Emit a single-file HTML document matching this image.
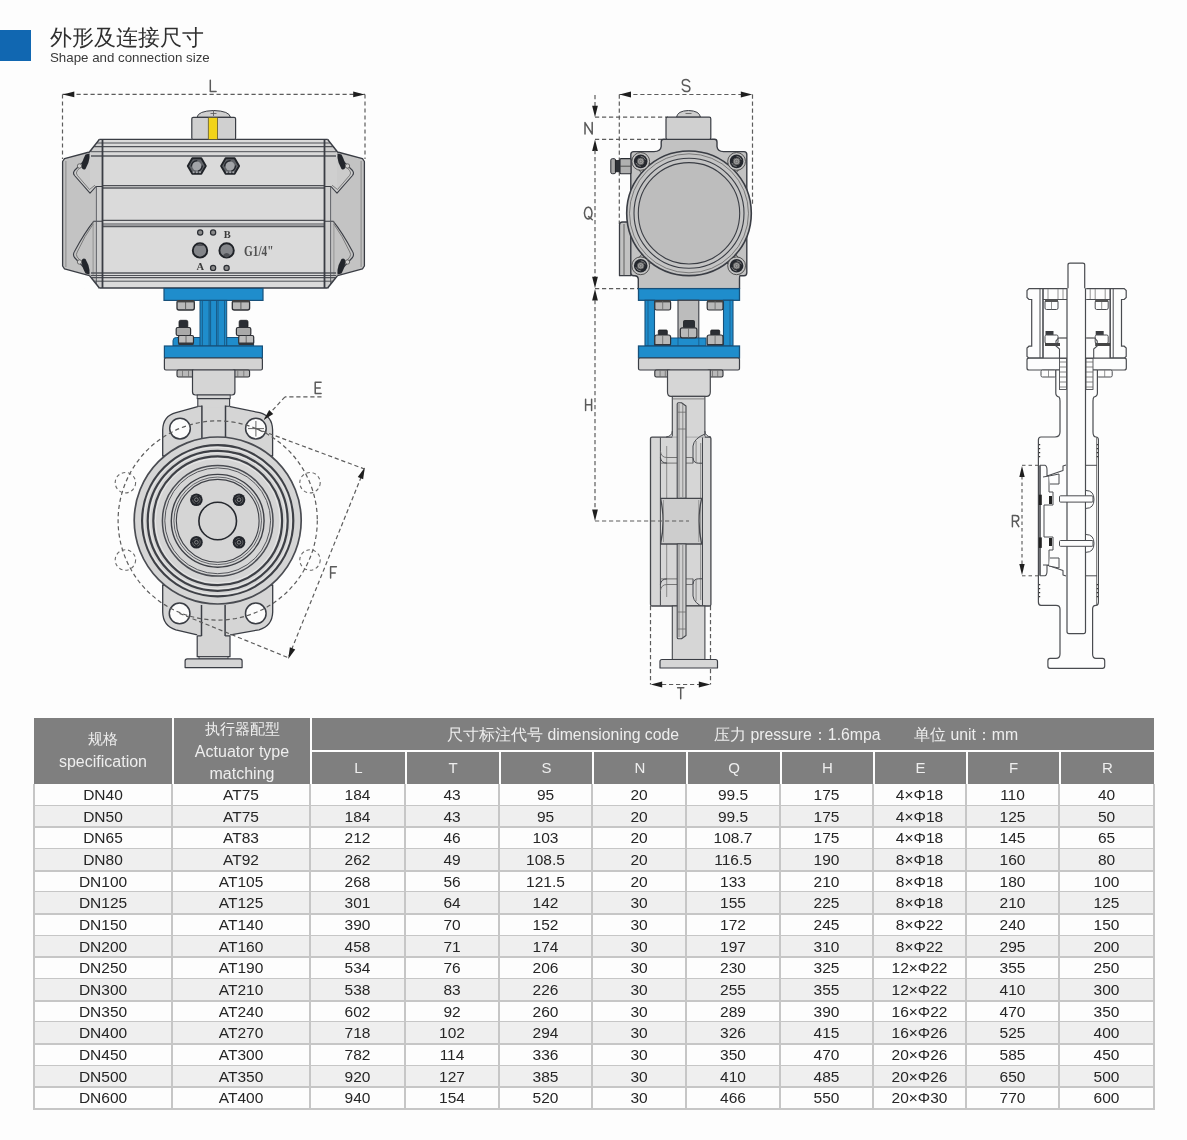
<!DOCTYPE html>
<html><head><meta charset="utf-8">
<style>
html,body{margin:0;padding:0;}
body{width:1187px;height:1140px;background:#fdfdfd;position:relative;overflow:hidden;font-family:"Liberation Sans",sans-serif;-webkit-font-smoothing:antialiased;}
.dt,.ht,.t1,.t2{will-change:transform;}
.g{position:absolute;background:#7f7f7f;}
.ht{position:absolute;color:#eeeeee;font-size:15px;text-align:center;white-space:nowrap;}
.he{font-size:16px;}
.dt{position:absolute;color:#262626;font-size:15.5px;text-align:center;white-space:nowrap;}
.rb{position:absolute;background:#efefef;}
.hl{position:absolute;height:2px;background:#c6c6c6;}
.vl{position:absolute;width:2px;background:#c6c6c6;}
.blue{position:absolute;left:0;top:30px;width:31px;height:31px;background:#1167b1;}
.t1{position:absolute;left:50px;top:24px;font-size:22px;color:#2f2f2f;line-height:28px;white-space:nowrap;}
.t2{position:absolute;left:50px;top:50px;font-size:13.3px;color:#3a3a3a;line-height:16px;white-space:nowrap;}
svg{position:absolute;left:0;top:0;will-change:transform;}
</style></head><body>
<div class="blue"></div>
<div class="t1">外形及连接尺寸</div>
<div class="t2">Shape and connection size</div>
<svg width="1187" height="710" viewBox="0 0 1187 710">
<line x1="62.50" y1="94.40" x2="365.00" y2="94.40" stroke="#5c5c5c" stroke-width="1.2" stroke-dasharray="4.2,2.8"/>
<line x1="62.50" y1="94.40" x2="62.50" y2="159.00" stroke="#5c5c5c" stroke-width="1.2" stroke-dasharray="4.2,2.8"/>
<line x1="365.00" y1="94.40" x2="365.00" y2="159.00" stroke="#5c5c5c" stroke-width="1.2" stroke-dasharray="4.2,2.8"/>
<polygon points="62.80,94.40 74.30,91.50 74.30,97.30" fill="#1e1e1e" stroke="none" stroke-width="0" stroke-linejoin="round" />
<polygon points="364.70,94.40 353.20,97.30 353.20,91.50" fill="#1e1e1e" stroke="none" stroke-width="0" stroke-linejoin="round" />
<path d="M210.3,80.2 V91.60000000000001 H216.10000000000002" fill="none" stroke="#5a5a5a" stroke-width="1.5" stroke-linejoin="round" stroke-linecap="round"/>
<rect x="102.50" y="139.40" width="222.00" height="148.60" rx="0" fill="#dadada" stroke="none" stroke-width="0" />
<polygon points="327.70,139.40 337.60,152.00 362.50,158.60 364.40,161.50 364.40,266.00 362.50,268.80 337.60,275.60 327.70,288.00 324.50,288.00 324.50,139.40" fill="#c3c3c3" stroke="none" stroke-width="0" stroke-linejoin="round" />
<polygon points="327.70,139.40 337.00,151.50 337.00,193.00 331.00,186.50 331.00,288.00 324.50,288.00 324.50,139.40" fill="#cfcfcf" stroke="none" stroke-width="0" stroke-linejoin="round" />
<path d="M337,155 L352.5,170.5 Q354,173 352.5,175 L337,193 Z" fill="#cbcbcb" stroke="none" stroke-width="0" stroke-linejoin="round" />
<polyline points="327.70,139.40 337.60,152.00 362.50,158.60 364.40,161.50 364.40,266.00 362.50,268.80 337.60,275.60 327.70,288.00" fill="none" stroke="#3a3d44" stroke-width="1.3" stroke-linejoin="round" />
<polyline points="361.10,161.00 361.10,267.00" fill="none" stroke="#8a8a8a" stroke-width="1" stroke-linejoin="round" />
<path d="M338,156 L352.5,170.5 Q354.5,173 352.5,175.5 L337,193.2 L331,186.5 L324.5,186.5" fill="none" stroke="#3a3d44" stroke-width="1.1" stroke-linejoin="round" />
<path d="M340,160 L349.8,170.8 Q351.5,173 349.8,175.2 L337.5,189.5 L332,185.2" fill="none" stroke="#6a6a6a" stroke-width="0.8" stroke-linejoin="round" />
<path d="M324.5,221.2 L333.1,221.2 Q342,232 352.5,251.5 Q354.5,254.5 352.5,257.5 L338,273" fill="none" stroke="#3a3d44" stroke-width="1.1" stroke-linejoin="round" />
<path d="M333.8,224 Q342,235 349.8,252 Q351.5,254.5 349.8,257 L340,268" fill="none" stroke="#6a6a6a" stroke-width="0.8" stroke-linejoin="round" />
<polyline points="330.60,186.50 330.60,288.00" fill="none" stroke="#55575c" stroke-width="0.9" stroke-linejoin="round" />
<polyline points="333.90,221.20 333.90,275.00" fill="none" stroke="#8a8a8a" stroke-width="0.8" stroke-linejoin="round" />
<path d="M337.5,153.5 L341.5,154.5 Q345.5,162 345.5,167.5 Q344,170.5 341.5,169 Q338,163 337.5,158 Z" fill="#23262c" stroke="none" stroke-width="0" stroke-linejoin="round" />
<path d="M337.5,274.5 L341.5,273.5 Q345.5,266 345.5,260.5 Q344,257.5 341.5,259 Q338,265 337.5,270 Z" fill="#23262c" stroke="none" stroke-width="0" stroke-linejoin="round" />
<circle cx="347.50" cy="166.00" r="2.20" fill="#d0d0d0" stroke="#555" stroke-width="0.8" />
<circle cx="347.50" cy="262.00" r="2.20" fill="#d0d0d0" stroke="#555" stroke-width="0.8" />
<polygon points="99.30,139.40 89.40,152.00 64.50,158.60 62.60,161.50 62.60,266.00 64.50,268.80 89.40,275.60 99.30,288.00 102.50,288.00 102.50,139.40" fill="#c3c3c3" stroke="none" stroke-width="0" stroke-linejoin="round" />
<polygon points="99.30,139.40 90.00,151.50 90.00,193.00 96.00,186.50 96.00,288.00 102.50,288.00 102.50,139.40" fill="#cfcfcf" stroke="none" stroke-width="0" stroke-linejoin="round" />
<path d="M90.00,155 L74.50,170.5 Q73.00,173 74.50,175 L90.00,193 Z" fill="#cbcbcb" stroke="none" stroke-width="0" stroke-linejoin="round" />
<polyline points="99.30,139.40 89.40,152.00 64.50,158.60 62.60,161.50 62.60,266.00 64.50,268.80 89.40,275.60 99.30,288.00" fill="none" stroke="#3a3d44" stroke-width="1.3" stroke-linejoin="round" />
<polyline points="65.90,161.00 65.90,267.00" fill="none" stroke="#8a8a8a" stroke-width="1" stroke-linejoin="round" />
<path d="M89.00,156 L74.50,170.5 Q72.50,173 74.50,175.5 L90.00,193.2 L96.00,186.5 L102.50,186.5" fill="none" stroke="#3a3d44" stroke-width="1.1" stroke-linejoin="round" />
<path d="M87.00,160 L77.20,170.8 Q75.50,173 77.20,175.2 L89.50,189.5 L95.00,185.2" fill="none" stroke="#6a6a6a" stroke-width="0.8" stroke-linejoin="round" />
<path d="M102.50,221.2 L93.90,221.2 Q85.00,232 74.50,251.5 Q72.50,254.5 74.50,257.5 L89.00,273" fill="none" stroke="#3a3d44" stroke-width="1.1" stroke-linejoin="round" />
<path d="M93.20,224 Q85.00,235 77.20,252 Q75.50,254.5 77.20,257 L87.00,268" fill="none" stroke="#6a6a6a" stroke-width="0.8" stroke-linejoin="round" />
<polyline points="96.40,186.50 96.40,288.00" fill="none" stroke="#55575c" stroke-width="0.9" stroke-linejoin="round" />
<polyline points="93.10,221.20 93.10,275.00" fill="none" stroke="#8a8a8a" stroke-width="0.8" stroke-linejoin="round" />
<path d="M89.50,153.5 L85.50,154.5 Q81.50,162 81.50,167.5 Q83.00,170.5 85.50,169 Q89.00,163 89.50,158 Z" fill="#23262c" stroke="none" stroke-width="0" stroke-linejoin="round" />
<path d="M89.50,274.5 L85.50,273.5 Q81.50,266 81.50,260.5 Q83.00,257.5 85.50,259 Q89.00,265 89.50,270 Z" fill="#23262c" stroke="none" stroke-width="0" stroke-linejoin="round" />
<circle cx="79.50" cy="166.00" r="2.20" fill="#d0d0d0" stroke="#555" stroke-width="0.8" />
<circle cx="79.50" cy="262.00" r="2.20" fill="#d0d0d0" stroke="#555" stroke-width="0.8" />
<line x1="91.00" y1="143.00" x2="336.00" y2="143.00" stroke="#4e5056" stroke-width="1" />
<line x1="91.00" y1="146.60" x2="336.00" y2="146.60" stroke="#4e5056" stroke-width="1.1" />
<line x1="91.00" y1="151.70" x2="336.00" y2="151.70" stroke="#4e5056" stroke-width="1" />
<line x1="91.00" y1="156.00" x2="336.00" y2="156.00" stroke="#55575c" stroke-width="1.6" />
<line x1="102.50" y1="185.60" x2="324.50" y2="185.60" stroke="#4e5056" stroke-width="1.1" />
<line x1="102.50" y1="188.00" x2="324.50" y2="188.00" stroke="#55575c" stroke-width="1.6" />
<line x1="102.50" y1="220.40" x2="324.50" y2="220.40" stroke="#4e5056" stroke-width="1.1" />
<line x1="102.50" y1="224.00" x2="324.50" y2="224.00" stroke="#4e5056" stroke-width="1" />
<line x1="102.50" y1="226.40" x2="324.50" y2="226.40" stroke="#55575c" stroke-width="1.6" />
<line x1="91.00" y1="273.00" x2="336.00" y2="273.00" stroke="#55575c" stroke-width="1.6" />
<line x1="91.00" y1="275.50" x2="336.00" y2="275.50" stroke="#4e5056" stroke-width="1" />
<line x1="91.00" y1="277.60" x2="336.00" y2="277.60" stroke="#4e5056" stroke-width="1.1" />
<line x1="91.00" y1="281.20" x2="336.00" y2="281.20" stroke="#4e5056" stroke-width="1" />
<line x1="99.30" y1="139.40" x2="327.70" y2="139.40" stroke="#3a3d44" stroke-width="1.3" />
<line x1="99.30" y1="288.00" x2="327.70" y2="288.00" stroke="#3a3d44" stroke-width="1.3" />
<line x1="102.50" y1="139.40" x2="102.50" y2="288.00" stroke="#3a3d44" stroke-width="1.8" />
<line x1="324.50" y1="139.40" x2="324.50" y2="288.00" stroke="#3a3d44" stroke-width="1.8" />
<polygon points="99.30,139.40 89.40,152.00 77.00,139.40" fill="#fdfdfd" stroke="none" stroke-width="0" stroke-linejoin="round" />
<polygon points="99.30,288.00 89.40,275.60 77.00,288.50" fill="#fdfdfd" stroke="none" stroke-width="0" stroke-linejoin="round" />
<polyline points="99.30,139.40 89.40,152.00" fill="none" stroke="#3a3d44" stroke-width="1.3" stroke-linejoin="round" />
<polyline points="99.30,288.00 89.40,275.60" fill="none" stroke="#3a3d44" stroke-width="1.3" stroke-linejoin="round" />
<polygon points="327.70,139.40 337.60,152.00 350.00,139.40" fill="#fdfdfd" stroke="none" stroke-width="0" stroke-linejoin="round" />
<polygon points="327.70,288.00 337.60,275.60 350.00,288.50" fill="#fdfdfd" stroke="none" stroke-width="0" stroke-linejoin="round" />
<polyline points="327.70,139.40 337.60,152.00" fill="none" stroke="#3a3d44" stroke-width="1.3" stroke-linejoin="round" />
<polyline points="327.70,288.00 337.60,275.60" fill="none" stroke="#3a3d44" stroke-width="1.3" stroke-linejoin="round" />
<path d="M197,117.3 Q198,111 213.7,110.5 Q229.5,111 230.5,117.3 Z" fill="#cfcfcf" stroke="#3a3d44" stroke-width="1" stroke-linejoin="round" />
<line x1="210.50" y1="113.50" x2="216.50" y2="113.50" stroke="#555" stroke-width="0.8" />
<line x1="213.50" y1="111.00" x2="213.50" y2="116.00" stroke="#555" stroke-width="0.8" />
<rect x="191.80" y="117.30" width="43.80" height="22.10" rx="1.5" fill="#d0d0d0" stroke="#3a3d44" stroke-width="1.2" />
<rect x="208.40" y="117.80" width="9.10" height="21.40" rx="0" fill="#f2d418" stroke="none" stroke-width="0" />
<line x1="208.40" y1="117.80" x2="208.40" y2="139.20" stroke="#6f6530" stroke-width="0.9" />
<line x1="217.50" y1="117.80" x2="217.50" y2="139.20" stroke="#6f6530" stroke-width="0.9" />
<polygon points="205.80,166.00 201.30,173.79 192.30,173.79 187.80,166.00 192.30,158.21 201.30,158.21" fill="#5f6267" stroke="#202328" stroke-width="1.9" stroke-linejoin="round" />
<circle cx="196.80" cy="166.00" r="4.60" fill="#a2a4a8" stroke="none" stroke-width="0" />
<path d="M191.20000000000002,166.5 Q191.8,161 197.3,160.6" fill="none" stroke="#23262c" stroke-width="1.4" stroke-linejoin="round" />
<path d="M202.4,165.5 Q201.8,170 198.3,171" fill="none" stroke="#23262c" stroke-width="1.4" stroke-linejoin="round" />
<circle cx="193.60" cy="172.20" r="1.00" fill="#a2a4a8" stroke="none" stroke-width="0" />
<circle cx="196.80" cy="172.20" r="1.00" fill="#a2a4a8" stroke="none" stroke-width="0" />
<circle cx="200.00" cy="172.20" r="1.00" fill="#a2a4a8" stroke="none" stroke-width="0" />
<polygon points="239.10,166.00 234.60,173.79 225.60,173.79 221.10,166.00 225.60,158.21 234.60,158.21" fill="#5f6267" stroke="#202328" stroke-width="1.9" stroke-linejoin="round" />
<circle cx="230.10" cy="166.00" r="4.60" fill="#a2a4a8" stroke="none" stroke-width="0" />
<path d="M224.5,166.5 Q225.1,161 230.6,160.6" fill="none" stroke="#23262c" stroke-width="1.4" stroke-linejoin="round" />
<path d="M235.7,165.5 Q235.1,170 231.6,171" fill="none" stroke="#23262c" stroke-width="1.4" stroke-linejoin="round" />
<circle cx="226.90" cy="172.20" r="1.00" fill="#a2a4a8" stroke="none" stroke-width="0" />
<circle cx="230.10" cy="172.20" r="1.00" fill="#a2a4a8" stroke="none" stroke-width="0" />
<circle cx="233.30" cy="172.20" r="1.00" fill="#a2a4a8" stroke="none" stroke-width="0" />
<circle cx="200.20" cy="232.50" r="2.60" fill="#8a8a8a" stroke="#2a2d33" stroke-width="1.2" />
<circle cx="213.10" cy="232.50" r="2.60" fill="#8a8a8a" stroke="#2a2d33" stroke-width="1.2" />
<circle cx="213.10" cy="267.90" r="2.60" fill="#8a8a8a" stroke="#2a2d33" stroke-width="1.2" />
<circle cx="226.60" cy="267.90" r="2.60" fill="#8a8a8a" stroke="#2a2d33" stroke-width="1.2" />
<circle cx="200.00" cy="250.40" r="7.20" fill="#838589" stroke="#1f2227" stroke-width="1.9" />
<circle cx="226.60" cy="250.40" r="7.20" fill="#838589" stroke="#1f2227" stroke-width="1.9" />
<path d="M196.5,246 Q200,241 203.5,246 Z" fill="#4f5156" stroke="none" stroke-width="0" stroke-linejoin="round" />
<path d="M223.1,255 Q226.6,259.8 230.1,255 Q226.6,251 223.1,255 Z" fill="#4f5156" stroke="none" stroke-width="0" stroke-linejoin="round" />
<text x="227.2" y="237.6" font-size="10.5" font-weight="bold" fill="#3a3a3a" text-anchor="middle" font-family="Liberation Serif">B</text>
<text x="200.2" y="270" font-size="10.5" font-weight="bold" fill="#3a3a3a" text-anchor="middle" font-family="Liberation Serif">A</text>
<text x="244" y="255.7" font-size="14" font-weight="bold" fill="#505050" font-family="Liberation Serif" textLength="29.5" lengthAdjust="spacingAndGlyphs">G1/4"</text>
<rect x="164.00" y="288.40" width="99.00" height="12.00" rx="0" fill="#1f8dcc" stroke="#17507a" stroke-width="1.2" />
<rect x="177.00" y="300.60" width="17.30" height="9.40" rx="2" fill="#b9b9b9" stroke="#2e3035" stroke-width="1.3" />
<line x1="185.60" y1="301.00" x2="185.60" y2="309.50" stroke="#555" stroke-width="0.9" />
<rect x="177.0" y="300.4" width="17.3" height="2" fill="#444"/>
<rect x="232.30" y="300.60" width="17.30" height="9.40" rx="2" fill="#b9b9b9" stroke="#2e3035" stroke-width="1.3" />
<line x1="240.90" y1="301.00" x2="240.90" y2="309.50" stroke="#555" stroke-width="0.9" />
<rect x="232.3" y="300.4" width="17.3" height="2" fill="#444"/>
<path d="M173,346 L173,340.5 Q173,337.5 176.5,337.5 L250,337.5 Q253.6,337.5 253.6,340.5 L253.6,346 Z" fill="#1f8dcc" stroke="#17507a" stroke-width="1" stroke-linejoin="round" />
<rect x="200.00" y="300.40" width="26.70" height="45.60" rx="0" fill="#1f8dcc" stroke="#17507a" stroke-width="1" />
<line x1="202.30" y1="301.00" x2="202.30" y2="346.00" stroke="#17507a" stroke-width="0.8" />
<line x1="209.10" y1="301.00" x2="209.10" y2="346.00" stroke="#17507a" stroke-width="0.8" />
<line x1="210.60" y1="301.00" x2="210.60" y2="346.00" stroke="#17507a" stroke-width="0.8" />
<line x1="216.50" y1="301.00" x2="216.50" y2="346.00" stroke="#17507a" stroke-width="0.8" />
<line x1="218.00" y1="301.00" x2="218.00" y2="346.00" stroke="#17507a" stroke-width="0.8" />
<line x1="224.60" y1="301.00" x2="224.60" y2="346.00" stroke="#17507a" stroke-width="0.8" />
<rect x="179.00" y="320.30" width="8.80" height="7.60" rx="1.5" fill="#2b2e34" stroke="#1a1c20" stroke-width="0.8" />
<rect x="176.20" y="327.50" width="14.40" height="8.00" rx="1.5" fill="#a9a9a9" stroke="#2e3035" stroke-width="1.2" />
<rect x="178.50" y="335.50" width="15.00" height="8.60" rx="1.5" fill="#bdbdbd" stroke="#2e3035" stroke-width="1.2" />
<line x1="186.00" y1="335.50" x2="186.00" y2="344.00" stroke="#555" stroke-width="0.8" />
<rect x="178.5" y="342.5" width="15" height="2.5" fill="#33363b"/>
<rect x="239.20" y="320.30" width="8.80" height="7.60" rx="1.5" fill="#2b2e34" stroke="#1a1c20" stroke-width="0.8" />
<rect x="236.40" y="327.50" width="14.40" height="8.00" rx="1.5" fill="#a9a9a9" stroke="#2e3035" stroke-width="1.2" />
<rect x="238.70" y="335.50" width="15.00" height="8.60" rx="1.5" fill="#bdbdbd" stroke="#2e3035" stroke-width="1.2" />
<line x1="246.20" y1="335.50" x2="246.20" y2="344.00" stroke="#555" stroke-width="0.8" />
<rect x="238.7" y="342.5" width="15" height="2.5" fill="#33363b"/>
<rect x="164.40" y="346.00" width="98.00" height="12.00" rx="0" fill="#1f8dcc" stroke="#17507a" stroke-width="1.2" />
<rect x="164.40" y="358.00" width="98.00" height="12.00" rx="1.5" fill="#d3d3d3" stroke="#3a3d44" stroke-width="1.2" />
<rect x="177.00" y="370.00" width="17.30" height="7.00" rx="1.5" fill="#b9b9b9" stroke="#2e3035" stroke-width="1.1" />
<line x1="182.50" y1="370.50" x2="182.50" y2="377.00" stroke="#666" stroke-width="0.7" />
<line x1="188.50" y1="370.50" x2="188.50" y2="377.00" stroke="#666" stroke-width="0.7" />
<rect x="232.30" y="370.00" width="17.30" height="7.00" rx="1.5" fill="#b9b9b9" stroke="#2e3035" stroke-width="1.1" />
<line x1="237.80" y1="370.50" x2="237.80" y2="377.00" stroke="#666" stroke-width="0.7" />
<line x1="243.80" y1="370.50" x2="243.80" y2="377.00" stroke="#666" stroke-width="0.7" />
<path d="M192.5,370 L192.5,392 Q192.5,395 195.5,395 L232,395 Q234.9,395 234.9,392 L234.9,370 Z" fill="#d5d5d5" stroke="#3a3d44" stroke-width="1.2" stroke-linejoin="round" />
<rect x="197.20" y="395.00" width="33.00" height="3.60" rx="0" fill="#d5d5d5" stroke="#3a3d44" stroke-width="1" />
<path d="M199.5,406.2 L176,412.7 Q163,416 162.7,430 L162.7,456 L272.6,456 L272.6,430 Q272.3,416 259.7,412.7 L227.8,406.2 Z" fill="#d5d5d5" stroke="#3a3d44" stroke-width="1.3" stroke-linejoin="round" />
<path d="M162.7,585 L162.7,612 Q163,626 175.8,629.8 L201.5,635.9 L225.1,635.9 L259,629.8 Q272.3,626 272.7,612 L272.7,585 Z" fill="#d5d5d5" stroke="#3a3d44" stroke-width="1.3" stroke-linejoin="round" />
<rect x="197.80" y="398.60" width="31.80" height="9.00" rx="0" fill="#d5d5d5" stroke="none" stroke-width="0" />
<path d="M197.8,406.2 V398.6 H229.6 V406.2 M197.8,406.2 L201.9,406.2 M229.6,406.2 L225.5,406.2" fill="none" stroke="#3a3d44" stroke-width="1.1" stroke-linejoin="round" />
<line x1="201.90" y1="405.50" x2="201.90" y2="438.00" stroke="#3a3d44" stroke-width="1.5" />
<line x1="225.50" y1="405.50" x2="225.50" y2="438.00" stroke="#3a3d44" stroke-width="1.5" />
<rect x="197.20" y="634.00" width="32.80" height="22.70" rx="0" fill="#d5d5d5" stroke="none" stroke-width="0" />
<path d="M197.2,635.9 L201.5,635.9 M225.1,635.9 L230,635.9 M197.2,635.9 V656.7 H230 V635.9" fill="none" stroke="#3a3d44" stroke-width="1.2" stroke-linejoin="round" />
<rect x="199.00" y="656.70" width="29.00" height="2.50" rx="0" fill="#d5d5d5" stroke="#3a3d44" stroke-width="0.9" />
<path d="M185.1,667.6 L185.1,661 Q185.1,658.9 187.2,658.9 L240,658.9 Q242.1,658.9 242.1,661 L242.1,667.6 Z" fill="#d5d5d5" stroke="#3a3d44" stroke-width="1.2" stroke-linejoin="round" />
<circle cx="180.00" cy="428.60" r="10.30" fill="#fcfcfc" stroke="#3a3d44" stroke-width="1.5" />
<circle cx="255.90" cy="428.60" r="10.30" fill="#fcfcfc" stroke="#3a3d44" stroke-width="1.5" />
<circle cx="179.60" cy="613.40" r="10.30" fill="#fcfcfc" stroke="#3a3d44" stroke-width="1.5" />
<circle cx="255.80" cy="613.40" r="10.30" fill="#fcfcfc" stroke="#3a3d44" stroke-width="1.5" />
<line x1="255.90" y1="421.00" x2="255.90" y2="436.50" stroke="#666" stroke-width="1" />
<line x1="248.00" y1="428.60" x2="264.00" y2="428.60" stroke="#666" stroke-width="1" />
<circle cx="217.70" cy="520.50" r="83.50" fill="#d5d5d5" stroke="#4a4c52" stroke-width="1.7" />
<circle cx="217.70" cy="520.80" r="75.60" fill="none" stroke="#3e4046" stroke-width="2.2" />
<circle cx="217.70" cy="520.80" r="70.00" fill="none" stroke="#3e4046" stroke-width="2.2" />
<circle cx="217.70" cy="520.80" r="64.40" fill="none" stroke="#3e4046" stroke-width="2.2" />
<circle cx="217.70" cy="520.80" r="55.30" fill="none" stroke="#4a4c52" stroke-width="1.5" />
<circle cx="217.70" cy="520.80" r="52.90" fill="none" stroke="#55575c" stroke-width="1" />
<circle cx="217.70" cy="520.80" r="46.40" fill="none" stroke="#3e4046" stroke-width="1.4" />
<circle cx="217.70" cy="520.80" r="43.80" fill="none" stroke="#55575c" stroke-width="0.9" />
<circle cx="217.70" cy="520.80" r="41.40" fill="none" stroke="#3e4046" stroke-width="1.1" />
<circle cx="217.70" cy="520.80" r="73.60" fill="none" stroke="#eeeeee" stroke-width="0.8" />
<circle cx="217.70" cy="520.80" r="68.00" fill="none" stroke="#eeeeee" stroke-width="0.8" />
<circle cx="217.70" cy="520.80" r="62.40" fill="none" stroke="#eeeeee" stroke-width="0.8" />
<line x1="201.50" y1="605.00" x2="201.50" y2="636.00" stroke="#3a3d44" stroke-width="1.5" />
<line x1="225.10" y1="605.00" x2="225.10" y2="636.00" stroke="#3a3d44" stroke-width="1.5" />
<circle cx="217.70" cy="521.00" r="18.80" fill="#d5d5d5" stroke="#25282e" stroke-width="1.6" />
<circle cx="196.40" cy="499.70" r="6.30" fill="#22252b" stroke="none" stroke-width="0" />
<circle cx="196.40" cy="499.70" r="1.80" fill="none" stroke="#999" stroke-width="0.8" />
<circle cx="196.40" cy="499.70" r="3.90" fill="none" stroke="#777" stroke-width="0.7" stroke-dasharray="5,2"/>
<circle cx="196.40" cy="542.30" r="6.30" fill="#22252b" stroke="none" stroke-width="0" />
<circle cx="196.40" cy="542.30" r="1.80" fill="none" stroke="#999" stroke-width="0.8" />
<circle cx="196.40" cy="542.30" r="3.90" fill="none" stroke="#777" stroke-width="0.7" stroke-dasharray="5,2"/>
<circle cx="239.00" cy="499.70" r="6.30" fill="#22252b" stroke="none" stroke-width="0" />
<circle cx="239.00" cy="499.70" r="1.80" fill="none" stroke="#999" stroke-width="0.8" />
<circle cx="239.00" cy="499.70" r="3.90" fill="none" stroke="#777" stroke-width="0.7" stroke-dasharray="5,2"/>
<circle cx="239.00" cy="542.30" r="6.30" fill="#22252b" stroke="none" stroke-width="0" />
<circle cx="239.00" cy="542.30" r="1.80" fill="none" stroke="#999" stroke-width="0.8" />
<circle cx="239.00" cy="542.30" r="3.90" fill="none" stroke="#777" stroke-width="0.7" stroke-dasharray="5,2"/>
<circle cx="217.70" cy="520.50" r="99.60" fill="none" stroke="#5c5c5c" stroke-width="1.2" stroke-dasharray="4.2,3"/>
<circle cx="125.40" cy="482.70" r="10.20" fill="none" stroke="#6a6a6a" stroke-width="1.1" stroke-dasharray="3.5,2.8"/>
<circle cx="125.40" cy="560.00" r="10.20" fill="none" stroke="#6a6a6a" stroke-width="1.1" stroke-dasharray="3.5,2.8"/>
<circle cx="310.00" cy="482.70" r="10.20" fill="none" stroke="#6a6a6a" stroke-width="1.1" stroke-dasharray="3.5,2.8"/>
<circle cx="310.00" cy="560.00" r="10.20" fill="none" stroke="#6a6a6a" stroke-width="1.1" stroke-dasharray="3.5,2.8"/>
<line x1="321.50" y1="396.80" x2="285.00" y2="396.80" stroke="#5c5c5c" stroke-width="1.2" stroke-dasharray="4.2,2.8"/>
<line x1="285.00" y1="396.80" x2="265.00" y2="418.50" stroke="#5c5c5c" stroke-width="1.2" stroke-dasharray="4.2,2.8"/>
<polygon points="263.60,420.00 269.19,410.12 273.23,414.00" fill="#1e1e1e" stroke="none" stroke-width="0" stroke-linejoin="round" />
<path d="M321.09999999999997,382.3 H315.2 V393.5 H321.09999999999997 M315.2,387.90000000000003 H320.215" fill="none" stroke="#5a5a5a" stroke-width="1.5" stroke-linejoin="round" stroke-linecap="round"/>
<line x1="256.00" y1="428.60" x2="364.50" y2="469.00" stroke="#5c5c5c" stroke-width="1.2" stroke-dasharray="4.2,2.8"/>
<line x1="179.60" y1="613.40" x2="289.00" y2="658.00" stroke="#5c5c5c" stroke-width="1.2" stroke-dasharray="4.2,2.8"/>
<line x1="289.00" y1="656.00" x2="364.00" y2="470.00" stroke="#5c5c5c" stroke-width="1.2" stroke-dasharray="4.2,2.8"/>
<polygon points="364.80,467.50 363.13,479.24 357.77,477.05" fill="#1e1e1e" stroke="none" stroke-width="0" stroke-linejoin="round" />
<polygon points="288.20,659.00 289.87,647.26 295.23,649.45" fill="#1e1e1e" stroke="none" stroke-width="0" stroke-linejoin="round" />
<path d="M336.40000000000003,566.8 H330.6 V578.0 M330.6,572.9 H335.24" fill="none" stroke="#5a5a5a" stroke-width="1.5" stroke-linejoin="round" stroke-linecap="round"/>
<line x1="619.30" y1="94.50" x2="752.50" y2="94.50" stroke="#5c5c5c" stroke-width="1.2" stroke-dasharray="4.2,2.8"/>
<polygon points="619.50,94.50 631.00,91.60 631.00,97.40" fill="#1e1e1e" stroke="none" stroke-width="0" stroke-linejoin="round" />
<polygon points="752.30,94.50 740.80,97.40 740.80,91.60" fill="#1e1e1e" stroke="none" stroke-width="0" stroke-linejoin="round" />
<line x1="619.30" y1="94.50" x2="619.30" y2="224.00" stroke="#5c5c5c" stroke-width="1.2" stroke-dasharray="4.2,2.8"/>
<line x1="752.50" y1="94.50" x2="752.50" y2="205.00" stroke="#5c5c5c" stroke-width="1.2" stroke-dasharray="4.2,2.8"/>
<path d="M689.6,81.64 Q688.0,79.6 686.0999999999999,79.6 Q682.3,79.6 682.3,82.72 Q682.3,85.1 686.0999999999999,85.6 Q689.9,86.39999999999999 689.9,88.47999999999999 Q689.9,91.6 686.0999999999999,91.6 Q683.8199999999999,91.6 682.3,89.19999999999999" fill="none" stroke="#5a5a5a" stroke-width="1.5" stroke-linejoin="round" stroke-linecap="round"/>
<line x1="595.00" y1="95.00" x2="595.00" y2="110.00" stroke="#5c5c5c" stroke-width="1.2" stroke-dasharray="4.2,2.8"/>
<polygon points="595.00,117.20 592.10,105.70 597.90,105.70" fill="#1e1e1e" stroke="none" stroke-width="0" stroke-linejoin="round" />
<line x1="595.00" y1="117.20" x2="668.00" y2="117.20" stroke="#5c5c5c" stroke-width="1.2" stroke-dasharray="4.2,2.8"/>
<path d="M585,134.0 V122.6 L592.2,134.0 V122.6" fill="none" stroke="#5a5a5a" stroke-width="1.5" stroke-linejoin="round" stroke-linecap="round"/>
<line x1="595.00" y1="139.30" x2="662.00" y2="139.30" stroke="#5c5c5c" stroke-width="1.2" stroke-dasharray="4.2,2.8"/>
<polygon points="595.00,139.50 597.90,151.00 592.10,151.00" fill="#1e1e1e" stroke="none" stroke-width="0" stroke-linejoin="round" />
<line x1="595.00" y1="150.00" x2="595.00" y2="280.00" stroke="#5c5c5c" stroke-width="1.2" stroke-dasharray="4.2,2.8"/>
<polygon points="595.00,288.30 592.10,276.80 597.90,276.80" fill="#1e1e1e" stroke="none" stroke-width="0" stroke-linejoin="round" />
<line x1="595.00" y1="288.60" x2="638.00" y2="288.60" stroke="#5c5c5c" stroke-width="1.2" stroke-dasharray="4.2,2.8"/>
<path d="M588.2,207.3 A3.8,5.8 0 1 0 588.21,207.3 M588.5799999999999,216.58 L592.3,219.70000000000002" fill="none" stroke="#5a5a5a" stroke-width="1.5" stroke-linejoin="round" stroke-linecap="round"/>
<polygon points="595.00,289.00 597.90,300.50 592.10,300.50" fill="#1e1e1e" stroke="none" stroke-width="0" stroke-linejoin="round" />
<line x1="595.00" y1="300.00" x2="595.00" y2="515.00" stroke="#5c5c5c" stroke-width="1.2" stroke-dasharray="4.2,2.8"/>
<polygon points="595.00,521.00 592.10,509.50 597.90,509.50" fill="#1e1e1e" stroke="none" stroke-width="0" stroke-linejoin="round" />
<path d="M585.6,399.2 V410.4 M591.6,399.2 V410.4 M585.6,404.8 H591.6" fill="none" stroke="#5a5a5a" stroke-width="1.5" stroke-linejoin="round" stroke-linecap="round"/>
<line x1="650.50" y1="606.00" x2="650.50" y2="684.50" stroke="#5c5c5c" stroke-width="1.2" stroke-dasharray="4.2,2.8"/>
<line x1="710.50" y1="606.00" x2="710.50" y2="684.50" stroke="#5c5c5c" stroke-width="1.2" stroke-dasharray="4.2,2.8"/>
<line x1="662.00" y1="684.50" x2="700.00" y2="684.50" stroke="#5c5c5c" stroke-width="1.2" stroke-dasharray="4.2,2.8"/>
<polygon points="650.70,684.50 662.20,681.60 662.20,687.40" fill="#1e1e1e" stroke="none" stroke-width="0" stroke-linejoin="round" />
<polygon points="710.30,684.50 698.80,687.40 698.80,681.60" fill="#1e1e1e" stroke="none" stroke-width="0" stroke-linejoin="round" />
<path d="M677.6,687.8 H683.8000000000001 M680.7,687.8 V698.8" fill="none" stroke="#5a5a5a" stroke-width="1.5" stroke-linejoin="round" stroke-linecap="round"/>
<path d="M631,222 L622.5,222 Q619.5,222 619.5,225 L619.5,275.7 L631,275.7 Z" fill="#c2c2c2" stroke="#3a3d44" stroke-width="1.3" stroke-linejoin="round" />
<line x1="624.00" y1="224.00" x2="624.00" y2="275.50" stroke="#555" stroke-width="0.9" />
<path d="M663.5,139.3 L714.5,139.3 Q717,139.3 717,142 L717,146.5 Q717.5,151.6 723.5,151.6 L744,151.6 Q746.8,151.6 746.8,154.5 L746.8,272.8 Q746.8,275.7 744,275.7 L740,275.7 Q739.5,276 739.5,279 L739.5,288.6 L638.3,288.6 L638.3,279 Q638,275.7 635,275.7 L633.8,275.7 Q630.8,275.7 630.8,272.8 L630.8,154.5 Q630.8,151.6 633.8,151.6 L654,151.6 Q660.6,151.6 661.2,146.5 L661.2,142 Q661.2,139.3 663.5,139.3 Z" fill="#c2c2c2" stroke="#3a3d44" stroke-width="1.4" stroke-linejoin="round" />
<line x1="638.70" y1="169.70" x2="644.50" y2="176.50" stroke="#444" stroke-width="0.9" />
<line x1="649.00" y1="163.00" x2="654.00" y2="168.00" stroke="#444" stroke-width="0.9" />
<line x1="738.70" y1="169.70" x2="733.00" y2="176.50" stroke="#444" stroke-width="0.9" />
<line x1="728.50" y1="163.00" x2="723.50" y2="168.00" stroke="#444" stroke-width="0.9" />
<line x1="638.70" y1="258.00" x2="644.50" y2="251.00" stroke="#444" stroke-width="0.9" />
<line x1="649.00" y1="264.50" x2="654.00" y2="259.50" stroke="#444" stroke-width="0.9" />
<line x1="738.70" y1="258.00" x2="733.00" y2="251.00" stroke="#444" stroke-width="0.9" />
<line x1="728.50" y1="264.50" x2="723.50" y2="259.50" stroke="#444" stroke-width="0.9" />
<circle cx="689.00" cy="213.30" r="62.30" fill="#c4c4c4" stroke="#3a3d44" stroke-width="1.6" />
<circle cx="689.00" cy="213.30" r="59.50" fill="none" stroke="#666" stroke-width="0.8" />
<circle cx="689.00" cy="213.30" r="55.00" fill="none" stroke="#3a3d44" stroke-width="1.1" />
<circle cx="689.00" cy="213.30" r="50.70" fill="#bdbdbd" stroke="#3a3d44" stroke-width="1.1" />
<circle cx="640.70" cy="161.40" r="8.90" fill="#c2c2c2" stroke="#444" stroke-width="0.9" />
<circle cx="640.70" cy="161.40" r="6.80" fill="#25282e" stroke="none" stroke-width="0" />
<circle cx="640.70" cy="161.40" r="3.30" fill="#a0a0a0" stroke="#555" stroke-width="0.8" />
<circle cx="640.70" cy="161.40" r="1.40" fill="none" stroke="#555" stroke-width="0.6" />
<path d="M635.9000000000001,162.9 Q637.2,166.4 640.7,166.4" fill="none" stroke="#8a8a8a" stroke-width="0.9" stroke-linejoin="round" />
<path d="M645.5,159.9 Q644.2,156.4 640.7,156.4" fill="none" stroke="#8a8a8a" stroke-width="0.9" stroke-linejoin="round" />
<circle cx="736.60" cy="161.40" r="8.90" fill="#c2c2c2" stroke="#444" stroke-width="0.9" />
<circle cx="736.60" cy="161.40" r="6.80" fill="#25282e" stroke="none" stroke-width="0" />
<circle cx="736.60" cy="161.40" r="3.30" fill="#a0a0a0" stroke="#555" stroke-width="0.8" />
<circle cx="736.60" cy="161.40" r="1.40" fill="none" stroke="#555" stroke-width="0.6" />
<path d="M731.8000000000001,162.9 Q733.1,166.4 736.6,166.4" fill="none" stroke="#8a8a8a" stroke-width="0.9" stroke-linejoin="round" />
<path d="M741.4,159.9 Q740.1,156.4 736.6,156.4" fill="none" stroke="#8a8a8a" stroke-width="0.9" stroke-linejoin="round" />
<circle cx="640.70" cy="265.80" r="8.90" fill="#c2c2c2" stroke="#444" stroke-width="0.9" />
<circle cx="640.70" cy="265.80" r="6.80" fill="#25282e" stroke="none" stroke-width="0" />
<circle cx="640.70" cy="265.80" r="3.30" fill="#a0a0a0" stroke="#555" stroke-width="0.8" />
<circle cx="640.70" cy="265.80" r="1.40" fill="none" stroke="#555" stroke-width="0.6" />
<path d="M635.9000000000001,267.3 Q637.2,270.8 640.7,270.8" fill="none" stroke="#8a8a8a" stroke-width="0.9" stroke-linejoin="round" />
<path d="M645.5,264.3 Q644.2,260.8 640.7,260.8" fill="none" stroke="#8a8a8a" stroke-width="0.9" stroke-linejoin="round" />
<circle cx="736.60" cy="265.80" r="8.90" fill="#c2c2c2" stroke="#444" stroke-width="0.9" />
<circle cx="736.60" cy="265.80" r="6.80" fill="#25282e" stroke="none" stroke-width="0" />
<circle cx="736.60" cy="265.80" r="3.30" fill="#a0a0a0" stroke="#555" stroke-width="0.8" />
<circle cx="736.60" cy="265.80" r="1.40" fill="none" stroke="#555" stroke-width="0.6" />
<path d="M731.8000000000001,267.3 Q733.1,270.8 736.6,270.8" fill="none" stroke="#8a8a8a" stroke-width="0.9" stroke-linejoin="round" />
<path d="M741.4,264.3 Q740.1,260.8 736.6,260.8" fill="none" stroke="#8a8a8a" stroke-width="0.9" stroke-linejoin="round" />
<rect x="610.80" y="158.70" width="4.80" height="15.00" rx="1.5" fill="#a8a8a8" stroke="#2a2d33" stroke-width="1" />
<rect x="615.30" y="160.50" width="5.00" height="11.30" rx="0" fill="#2e3136" stroke="#1e2024" stroke-width="0.8" />
<rect x="620.00" y="158.60" width="11.00" height="15.20" rx="1" fill="#b0b0b0" stroke="#2a2d33" stroke-width="1.1" />
<line x1="620.00" y1="166.20" x2="631.00" y2="166.20" stroke="#444" stroke-width="0.9" />
<path d="M676.5,117.2 Q677.5,110.8 688.5,110.5 Q699.5,110.8 700.5,117.2 Z" fill="#cdcdcd" stroke="#3a3d44" stroke-width="1" stroke-linejoin="round" />
<line x1="685.50" y1="113.50" x2="691.50" y2="113.50" stroke="#555" stroke-width="0.8" />
<rect x="666.00" y="117.20" width="44.80" height="22.10" rx="1.5" fill="#d0d0d0" stroke="#3a3d44" stroke-width="1.2" />
<rect x="638.50" y="288.60" width="101.00" height="11.70" rx="0" fill="#1f8dcc" stroke="#17507a" stroke-width="1.3" />
<rect x="645.00" y="300.30" width="9.50" height="45.70" rx="0" fill="#1f8dcc" stroke="#17507a" stroke-width="1.1" />
<rect x="723.50" y="300.30" width="9.50" height="45.70" rx="0" fill="#1f8dcc" stroke="#17507a" stroke-width="1.1" />
<line x1="648.00" y1="300.30" x2="648.00" y2="346.00" stroke="#17507a" stroke-width="0.7" />
<line x1="730.00" y1="300.30" x2="730.00" y2="346.00" stroke="#17507a" stroke-width="0.7" />
<rect x="678.00" y="300.30" width="20.80" height="38.00" rx="0" fill="#bcbcbc" stroke="#3a3d44" stroke-width="1.1" />
<rect x="670.00" y="338.00" width="36.00" height="8.00" rx="0" fill="#1f8dcc" stroke="#17507a" stroke-width="1" />
<line x1="678.00" y1="338.00" x2="678.00" y2="346.00" stroke="#17507a" stroke-width="0.7" />
<line x1="698.80" y1="338.00" x2="698.80" y2="346.00" stroke="#17507a" stroke-width="0.7" />
<rect x="654.80" y="300.60" width="15.80" height="9.40" rx="1.8" fill="#b9b9b9" stroke="#2e3035" stroke-width="1.2" />
<rect x="654.8" y="300.4" width="15.8" height="2" fill="#444"/>
<line x1="662.70" y1="301.00" x2="662.70" y2="309.50" stroke="#666" stroke-width="0.8" />
<rect x="658.30" y="330.00" width="9.00" height="5.50" rx="1" fill="#2b2e34" stroke="#1a1c20" stroke-width="0.8" />
<rect x="654.80" y="335.00" width="15.80" height="10.50" rx="2" fill="#b9b9b9" stroke="#2e3035" stroke-width="1.2" />
<line x1="662.70" y1="335.50" x2="662.70" y2="345.00" stroke="#666" stroke-width="0.8" />
<rect x="654.8" y="344" width="15.8" height="2" fill="#33363b"/>
<rect x="707.20" y="300.60" width="15.80" height="9.40" rx="1.8" fill="#b9b9b9" stroke="#2e3035" stroke-width="1.2" />
<rect x="707.2" y="300.4" width="15.8" height="2" fill="#444"/>
<line x1="715.10" y1="301.00" x2="715.10" y2="309.50" stroke="#666" stroke-width="0.8" />
<rect x="710.70" y="330.00" width="9.00" height="5.50" rx="1" fill="#2b2e34" stroke="#1a1c20" stroke-width="0.8" />
<rect x="707.20" y="335.00" width="15.80" height="10.50" rx="2" fill="#b9b9b9" stroke="#2e3035" stroke-width="1.2" />
<line x1="715.10" y1="335.50" x2="715.10" y2="345.00" stroke="#666" stroke-width="0.8" />
<rect x="707.2" y="344" width="15.8" height="2" fill="#33363b"/>
<rect x="683.50" y="320.50" width="11.00" height="7.50" rx="1" fill="#2b2e34" stroke="#1a1c20" stroke-width="0.8" />
<rect x="680.30" y="327.80" width="16.60" height="10.00" rx="2" fill="#b9b9b9" stroke="#2e3035" stroke-width="1.2" />
<line x1="688.50" y1="328.30" x2="688.50" y2="337.50" stroke="#666" stroke-width="0.8" />
<rect x="638.50" y="346.00" width="101.00" height="12.00" rx="0" fill="#1f8dcc" stroke="#17507a" stroke-width="1.3" />
<rect x="638.50" y="358.00" width="101.00" height="12.00" rx="1.5" fill="#d3d3d3" stroke="#3a3d44" stroke-width="1.2" />
<rect x="654.80" y="370.00" width="15.80" height="7.00" rx="1.5" fill="#b9b9b9" stroke="#2e3035" stroke-width="1.1" />
<line x1="660.10" y1="370.50" x2="660.10" y2="377.00" stroke="#666" stroke-width="0.7" />
<line x1="665.30" y1="370.50" x2="665.30" y2="377.00" stroke="#666" stroke-width="0.7" />
<rect x="707.20" y="370.00" width="15.80" height="7.00" rx="1.5" fill="#b9b9b9" stroke="#2e3035" stroke-width="1.1" />
<line x1="712.50" y1="370.50" x2="712.50" y2="377.00" stroke="#666" stroke-width="0.7" />
<line x1="717.70" y1="370.50" x2="717.70" y2="377.00" stroke="#666" stroke-width="0.7" />
<path d="M667.5,370 L667.5,392 Q667.5,396.4 671,396.4 L706.5,396.4 Q710.3,396.4 710.3,392 L710.3,370 Z" fill="#d6d6d6" stroke="#45474c" stroke-width="1.2" stroke-linejoin="round" />
<rect x="672.30" y="396.40" width="32.60" height="42.00" rx="0" fill="#d6d6d6" stroke="#45474c" stroke-width="1.1" />
<line x1="672.30" y1="398.90" x2="704.90" y2="398.90" stroke="#6a6a6a" stroke-width="0.8" />
<rect x="650.50" y="437.10" width="60.40" height="168.90" rx="1.5" fill="#d6d6d6" stroke="#45474c" stroke-width="1.3" />
<path d="M666,437.1 Q672.3,436 672.3,431" fill="none" stroke="#45474c" stroke-width="1" stroke-linejoin="round" />
<path d="M711,437.1 Q704.9,436 704.9,431" fill="none" stroke="#45474c" stroke-width="1" stroke-linejoin="round" />
<line x1="672.30" y1="437.10" x2="704.90" y2="437.10" stroke="#d6d6d6" stroke-width="1.5" />
<line x1="660.40" y1="437.50" x2="660.40" y2="605.50" stroke="#45474c" stroke-width="1" />
<line x1="702.50" y1="437.50" x2="702.50" y2="605.50" stroke="#45474c" stroke-width="1" />
<line x1="700.70" y1="443.00" x2="700.70" y2="600.00" stroke="#6a6a6a" stroke-width="0.7" />
<line x1="666.70" y1="446.00" x2="666.70" y2="498.00" stroke="#6a6a6a" stroke-width="0.7" />
<line x1="666.70" y1="544.00" x2="666.70" y2="597.00" stroke="#6a6a6a" stroke-width="0.7" />
<path d="M693,463.2 L693,446 Q694,438.5 704.9,434" fill="none" stroke="#45474c" stroke-width="1" stroke-linejoin="round" />
<path d="M693,458 Q693.5,463.2 698.5,463.2 L702.5,463.2" fill="none" stroke="#45474c" stroke-width="1" stroke-linejoin="round" />
<line x1="696.10" y1="441.00" x2="696.10" y2="463.00" stroke="#6a6a6a" stroke-width="0.7" />
<path d="M693,578.8 L693,596 Q694,603.5 704.9,608" fill="none" stroke="#45474c" stroke-width="1" stroke-linejoin="round" />
<path d="M693,584 Q693.5,578.8 698.5,578.8 L702.5,578.8" fill="none" stroke="#45474c" stroke-width="1" stroke-linejoin="round" />
<line x1="696.10" y1="579.00" x2="696.10" y2="601.00" stroke="#6a6a6a" stroke-width="0.7" />
<path d="M660.4,451 Q661,457.5 667,457.5 L677.2,457.5 M660.4,463.1 L677.2,463.1 M686,457.5 L693,457.5 M686,463.1 L693,463.1" fill="none" stroke="#6a6a6a" stroke-width="0.9" stroke-linejoin="round" />
<path d="M660.4,591 Q661,584.5 667,584.5 L677.2,584.5 M660.4,578.9 L677.2,578.9 M686,584.5 L693,584.5 M686,578.9 L693,578.9" fill="none" stroke="#6a6a6a" stroke-width="0.9" stroke-linejoin="round" />
<path d="M660.4,457.5 Q661,463.1 667,463.1" fill="none" stroke="#45474c" stroke-width="1" stroke-linejoin="round" />
<path d="M660.4,584.5 Q661,578.9 667,578.9" fill="none" stroke="#45474c" stroke-width="1" stroke-linejoin="round" />
<path d="M677.2,498.3 L677.2,404 Q677.2,402.7 678.5,402.7 L681.5,402.7 L686,406 L686,498.3 Z" fill="#d0d0d0" stroke="#45474c" stroke-width="1.1" stroke-linejoin="round" />
<line x1="679.00" y1="404.00" x2="679.00" y2="497.00" stroke="#6a6a6a" stroke-width="0.7" />
<line x1="682.80" y1="403.50" x2="682.80" y2="497.00" stroke="#6a6a6a" stroke-width="0.7" />
<line x1="677.20" y1="412.20" x2="686.00" y2="412.20" stroke="#6a6a6a" stroke-width="0.8" />
<line x1="677.20" y1="429.00" x2="686.00" y2="429.00" stroke="#6a6a6a" stroke-width="0.8" />
<path d="M660.6,498.3 L701.6,498.3 Q696.5,521 701.6,544 L660.6,544 Q665.5,521 660.6,498.3 Z" fill="#cdcdcd" stroke="#45474c" stroke-width="1.3" stroke-linejoin="round" />
<line x1="663.50" y1="500.00" x2="663.50" y2="542.00" stroke="#777" stroke-width="0.6" />
<line x1="698.70" y1="500.00" x2="698.70" y2="542.00" stroke="#777" stroke-width="0.6" />
<rect x="672.30" y="606.00" width="32.60" height="53.50" rx="0" fill="#d6d6d6" stroke="#45474c" stroke-width="1.1" />
<path d="M660,668 L660,661.5 Q660,659.5 662,659.5 L715.5,659.5 Q717.5,659.5 717.5,661.5 L717.5,668 Z" fill="#d6d6d6" stroke="#3a3d44" stroke-width="1.2" stroke-linejoin="round" />
<path d="M677.2,544 L677.2,637.5 Q677.2,638.8 678.5,638.8 L681.5,638.8 L686,635.5 L686,544 Z" fill="#d0d0d0" stroke="#45474c" stroke-width="1.1" stroke-linejoin="round" />
<line x1="679.00" y1="545.00" x2="679.00" y2="637.00" stroke="#6a6a6a" stroke-width="0.7" />
<line x1="682.80" y1="545.00" x2="682.80" y2="638.00" stroke="#6a6a6a" stroke-width="0.7" />
<line x1="677.20" y1="612.00" x2="686.00" y2="612.00" stroke="#6a6a6a" stroke-width="0.8" />
<line x1="677.20" y1="629.00" x2="686.00" y2="629.00" stroke="#6a6a6a" stroke-width="0.8" />
<line x1="595.00" y1="521.00" x2="689.00" y2="521.00" stroke="#5c5c5c" stroke-width="1.2" stroke-dasharray="4.2,2.8"/>
<path d="M1067.2,289 L1068,288 L1068,265 Q1068,263.2 1070,263.2 L1082.7,263.2 Q1084.7,263.2 1084.7,265 L1084.7,288 L1085.5,289" fill="#fdfdfd" stroke="#4a4c50" stroke-width="1.2" stroke-linejoin="round" />
<polyline points="1067.0,288.6 1029.0,288.6 1027.0,290.5 1027.0,297.5 1029.0,299.5 1031.7,299.5 1031.7,346.2 1029.0,346.2 1027.0,348.0 1027.0,356.5 1029.0,358.2 1043.0,358.2 1043.0,288.6" fill="#fdfdfd" stroke="#4a4c50" stroke-width="1.2"/>
<line x1="1040.00" y1="288.60" x2="1040.00" y2="358.20" stroke="#4a4c50" stroke-width="1" />
<line x1="1043.00" y1="288.60" x2="1043.00" y2="358.20" stroke="#4a4c50" stroke-width="1" />
<line x1="1048.00" y1="289.00" x2="1048.00" y2="299.50" stroke="#777" stroke-width="0.8" />
<line x1="1058.00" y1="289.00" x2="1058.00" y2="299.50" stroke="#777" stroke-width="0.8" />
<line x1="1063.00" y1="289.00" x2="1063.00" y2="299.50" stroke="#777" stroke-width="0.8" />
<line x1="1043.00" y1="299.50" x2="1067.00" y2="299.50" stroke="#4a4c50" stroke-width="1" />
<rect x="1045.00" y="300.50" width="13.00" height="9.00" rx="1.5" fill="#fdfdfd" stroke="#4a4c50" stroke-width="1" />
<line x1="1051.50" y1="300.50" x2="1051.50" y2="309.50" stroke="#777" stroke-width="0.8" />
<rect x="1045.0" y="299.5" width="13" height="2.5" fill="#555"/>
<rect x="1045.5" y="331" width="8" height="4" fill="#3a3c40"/>
<rect x="1045.00" y="335.00" width="13.00" height="8.50" rx="1.5" fill="#fdfdfd" stroke="#4a4c50" stroke-width="1" />
<rect x="1045.0" y="343" width="15" height="3" fill="#444"/>
<polyline points="1067.0,338.0 1058.5,338.0 1056.0,341.0 1056.0,346.0 1059.5,349.0 1059.5,358.2" fill="none" stroke="#4a4c50" stroke-width="1.1"/>
<line x1="1059.50" y1="338.00" x2="1067.00" y2="338.00" stroke="#777" stroke-width="0.8" />
<polyline points="1086.2,288.6 1124.2,288.6 1126.2,290.5 1126.2,297.5 1124.2,299.5 1121.5,299.5 1121.5,346.2 1124.2,346.2 1126.2,348.0 1126.2,356.5 1124.2,358.2 1110.2,358.2 1110.2,288.6" fill="#fdfdfd" stroke="#4a4c50" stroke-width="1.2"/>
<line x1="1113.20" y1="288.60" x2="1113.20" y2="358.20" stroke="#4a4c50" stroke-width="1" />
<line x1="1110.20" y1="288.60" x2="1110.20" y2="358.20" stroke="#4a4c50" stroke-width="1" />
<line x1="1105.20" y1="289.00" x2="1105.20" y2="299.50" stroke="#777" stroke-width="0.8" />
<line x1="1095.20" y1="289.00" x2="1095.20" y2="299.50" stroke="#777" stroke-width="0.8" />
<line x1="1090.20" y1="289.00" x2="1090.20" y2="299.50" stroke="#777" stroke-width="0.8" />
<line x1="1110.20" y1="299.50" x2="1086.20" y2="299.50" stroke="#4a4c50" stroke-width="1" />
<rect x="1095.20" y="300.50" width="13.00" height="9.00" rx="1.5" fill="#fdfdfd" stroke="#4a4c50" stroke-width="1" />
<line x1="1101.70" y1="300.50" x2="1101.70" y2="309.50" stroke="#777" stroke-width="0.8" />
<rect x="1095.2" y="299.5" width="13" height="2.5" fill="#555"/>
<rect x="1095.7" y="331" width="8" height="4" fill="#3a3c40"/>
<rect x="1095.20" y="335.00" width="13.00" height="8.50" rx="1.5" fill="#fdfdfd" stroke="#4a4c50" stroke-width="1" />
<rect x="1095.2" y="343" width="15" height="3" fill="#444"/>
<polyline points="1086.2,338.0 1094.7,338.0 1097.2,341.0 1097.2,346.0 1093.7,349.0 1093.7,358.2" fill="none" stroke="#4a4c50" stroke-width="1.1"/>
<line x1="1093.70" y1="338.00" x2="1086.20" y2="338.00" stroke="#777" stroke-width="0.8" />
<path d="M1029,358.2 L1124.3,358.2 Q1126.3,358.2 1126.3,360 L1126.3,368 Q1126.3,370 1124.3,370 L1029,370 Q1027,370 1027,368 L1027,360 Q1027,358.2 1029,358.2 Z" fill="#fdfdfd" stroke="#4a4c50" stroke-width="1.2" stroke-linejoin="round" />
<rect x="1041.00" y="370.00" width="15.00" height="7.00" rx="1.5" fill="#fdfdfd" stroke="#4a4c50" stroke-width="1" />
<line x1="1048.50" y1="370.00" x2="1048.50" y2="377.00" stroke="#777" stroke-width="0.8" />
<rect x="1097.20" y="370.00" width="15.00" height="7.00" rx="1.5" fill="#fdfdfd" stroke="#4a4c50" stroke-width="1" />
<line x1="1104.70" y1="370.00" x2="1104.70" y2="377.00" stroke="#777" stroke-width="0.8" />
<path d="M1055.8,370 L1055.8,393 Q1055.8,396.3 1059,397 Q1060,398 1060,401 L1060,432 Q1060,437 1055,437 L1041,437 Q1038.4,437 1038.4,440 L1038.4,602 Q1038.4,605.3 1041,605.3 L1056,605.3 Q1060,605.3 1060,609 L1060,654 Q1060,658.4 1056,658.4 L1050,658.4 Q1047.9,658.4 1047.9,661 L1047.9,666 Q1047.9,668.4 1050,668.4 L1102.5,668.4 Q1104.7,668.4 1104.7,666 L1104.7,661 Q1104.7,658.4 1102.5,658.4 L1096,658.4 Q1092.6,658.4 1092.6,654 L1092.6,609 Q1092.6,605.3 1096,605.3 L1096,605.3 Q1098.4,605.3 1098.4,602 L1098.4,440 Q1098.4,437 1096,437 Q1093,437 1093,432 L1093,401 Q1093,398 1094,397 Q1097.4,396.3 1097.4,393 L1097.4,370 Z" fill="#fdfdfd" stroke="#4a4c50" stroke-width="1.2" stroke-linejoin="round" />
<path d="M1067,288.6 L1067,631.5 Q1067,633.7 1069,633.7 L1083.5,633.7 Q1085.5,633.7 1085.5,631.5 L1085.5,288.6" fill="#fdfdfd" stroke="#4a4c50" stroke-width="1.2" stroke-linejoin="round" />
<rect x="1059.50" y="358.50" width="7.00" height="31.00" rx="0" fill="#fdfdfd" stroke="#4a4c50" stroke-width="0.9" />
<line x1="1059.50" y1="362.00" x2="1066.50" y2="362.00" stroke="#666" stroke-width="0.8" />
<line x1="1059.50" y1="367.00" x2="1066.50" y2="367.00" stroke="#666" stroke-width="0.8" />
<line x1="1059.50" y1="372.00" x2="1066.50" y2="372.00" stroke="#666" stroke-width="0.8" />
<line x1="1059.50" y1="377.00" x2="1066.50" y2="377.00" stroke="#666" stroke-width="0.8" />
<line x1="1059.50" y1="382.00" x2="1066.50" y2="382.00" stroke="#666" stroke-width="0.8" />
<line x1="1059.50" y1="387.00" x2="1066.50" y2="387.00" stroke="#666" stroke-width="0.8" />
<rect x="1086.00" y="358.50" width="7.00" height="31.00" rx="0" fill="#fdfdfd" stroke="#4a4c50" stroke-width="0.9" />
<line x1="1086.00" y1="362.00" x2="1093.00" y2="362.00" stroke="#666" stroke-width="0.8" />
<line x1="1086.00" y1="367.00" x2="1093.00" y2="367.00" stroke="#666" stroke-width="0.8" />
<line x1="1086.00" y1="372.00" x2="1093.00" y2="372.00" stroke="#666" stroke-width="0.8" />
<line x1="1086.00" y1="377.00" x2="1093.00" y2="377.00" stroke="#666" stroke-width="0.8" />
<line x1="1086.00" y1="382.00" x2="1093.00" y2="382.00" stroke="#666" stroke-width="0.8" />
<line x1="1086.00" y1="387.00" x2="1093.00" y2="387.00" stroke="#666" stroke-width="0.8" />
<line x1="1096.50" y1="437.00" x2="1096.50" y2="605.00" stroke="#666" stroke-width="0.8" />
<line x1="1086.00" y1="465.30" x2="1097.00" y2="465.30" stroke="#4a4c50" stroke-width="1" />
<line x1="1086.00" y1="575.80" x2="1097.00" y2="575.80" stroke="#4a4c50" stroke-width="1" />
<path d="M1040,465.3 L1045,465.3 Q1047,466 1047,470 L1047,476 L1063,470.5 L1063,466 L1066,465 M1040,575.8 L1045,575.8 Q1047,575 1047,571 L1047,565 L1063,570.5 L1063,575 L1066,576" fill="none" stroke="#4a4c50" stroke-width="1.1" stroke-linejoin="round" />
<line x1="1040.00" y1="465.30" x2="1040.00" y2="575.80" stroke="#4a4c50" stroke-width="1.6" />
<rect x="1038.8" y="494.7" width="3" height="10.3" fill="#222"/>
<rect x="1038.8" y="537.4" width="3" height="10.5" fill="#222"/>
<path d="M1042,477 L1042,565" fill="#4a4c50" stroke="none" stroke-width="0" stroke-linejoin="round" />
<path d="M1043,477 L1049,476 L1049,492 L1053,492 L1053,505 L1044,505 L1044,537 L1053,537 L1053,550 L1049,550 L1049,565 L1043,565" fill="#fdfdfd" stroke="#4a4c50" stroke-width="1" stroke-linejoin="round" />
<rect x="1049" y="496" width="3" height="8" fill="#222"/>
<rect x="1049" y="538" width="3" height="8" fill="#222"/>
<path d="M1049,476 L1059,474 L1059,484 L1050,484" fill="#fdfdfd" stroke="#4a4c50" stroke-width="1" stroke-linejoin="round" />
<path d="M1049,566 L1059,568 L1059,558 L1050,558" fill="#fdfdfd" stroke="#4a4c50" stroke-width="1" stroke-linejoin="round" />
<path d="M1086,490.5 Q1094,490.5 1094,499.45 Q1094,508.4 1086,508.4" fill="#fdfdfd" stroke="#4a4c50" stroke-width="1" stroke-linejoin="round" />
<rect x="1059.50" y="495.80" width="33.50" height="6.30" rx="1" fill="#fdfdfd" stroke="#4a4c50" stroke-width="1" />
<path d="M1086,534.5 Q1094,534.5 1094,543.4 Q1094,552.3 1086,552.3" fill="#fdfdfd" stroke="#4a4c50" stroke-width="1" stroke-linejoin="round" />
<rect x="1059.50" y="540.50" width="33.50" height="5.80" rx="1" fill="#fdfdfd" stroke="#4a4c50" stroke-width="1" />
<line x1="1022.00" y1="465.30" x2="1038.00" y2="465.30" stroke="#555" stroke-width="1" stroke-dasharray="3.5,3"/>
<line x1="1022.00" y1="575.80" x2="1038.00" y2="575.80" stroke="#555" stroke-width="1" stroke-dasharray="3.5,3"/>
<line x1="1022.00" y1="476.00" x2="1022.00" y2="566.00" stroke="#555" stroke-width="1.1" stroke-dasharray="3.5,3"/>
<polygon points="1022,466 1019.3,477 1024.7,477" fill="#1e1e1e"/>
<polygon points="1022,575 1019.3,564 1024.7,564" fill="#1e1e1e"/>
<path d="M1012.4,526.6999999999999 V515.4 H1015.6 Q1018.8,515.4 1018.8,518.338 Q1018.8,521.276 1015.6,521.276 H1012.4 M1015.6,521.276 L1018.8,526.6999999999999" fill="none" stroke="#5a5a5a" stroke-width="1.5" stroke-linejoin="round" stroke-linecap="round"/>
<line x1="1039.60" y1="444.00" x2="1039.60" y2="458.00" stroke="#333" stroke-width="1.2" stroke-dasharray="1.2,2.8"/>
<line x1="1039.60" y1="584.00" x2="1039.60" y2="599.00" stroke="#333" stroke-width="1.2" stroke-dasharray="1.2,2.8"/>
<line x1="1097.40" y1="444.00" x2="1097.40" y2="458.00" stroke="#333" stroke-width="1.2" stroke-dasharray="1.2,2.8"/>
<line x1="1097.40" y1="584.00" x2="1097.40" y2="599.00" stroke="#333" stroke-width="1.2" stroke-dasharray="1.2,2.8"/>
</svg>
<div class="g" style="left:34px;top:718px;width:138px;height:66px"></div>
<div class="g" style="left:174px;top:718px;width:136px;height:66px"></div>
<div class="g" style="left:312px;top:718px;width:842px;height:32px"></div>
<div class="g" style="left:312px;top:752px;width:93px;height:32px"></div>
<div class="ht" style="left:312px;top:752px;width:93px;height:32px;line-height:32px">L</div>
<div class="g" style="left:407px;top:752px;width:92px;height:32px"></div>
<div class="ht" style="left:407px;top:752px;width:92px;height:32px;line-height:32px">T</div>
<div class="g" style="left:501px;top:752px;width:91px;height:32px"></div>
<div class="ht" style="left:501px;top:752px;width:91px;height:32px;line-height:32px">S</div>
<div class="g" style="left:594px;top:752px;width:92px;height:32px"></div>
<div class="ht" style="left:594px;top:752px;width:92px;height:32px;line-height:32px">N</div>
<div class="g" style="left:688px;top:752px;width:92px;height:32px"></div>
<div class="ht" style="left:688px;top:752px;width:92px;height:32px;line-height:32px">Q</div>
<div class="g" style="left:782px;top:752px;width:91px;height:32px"></div>
<div class="ht" style="left:782px;top:752px;width:91px;height:32px;line-height:32px">H</div>
<div class="g" style="left:875px;top:752px;width:91px;height:32px"></div>
<div class="ht" style="left:875px;top:752px;width:91px;height:32px;line-height:32px">E</div>
<div class="g" style="left:968px;top:752px;width:91px;height:32px"></div>
<div class="ht" style="left:968px;top:752px;width:91px;height:32px;line-height:32px">F</div>
<div class="g" style="left:1061px;top:752px;width:93px;height:32px"></div>
<div class="ht" style="left:1061px;top:752px;width:93px;height:32px;line-height:32px">R</div>
<div class="ht" style="left:34px;top:729px;width:138px;line-height:20px">规格</div>
<div class="ht" style="left:34px;top:752px;width:138px;line-height:20px;font-size:16px">specification</div>
<div class="ht" style="left:174px;top:719px;width:136px;line-height:20px">执行器配型</div>
<div class="ht" style="left:174px;top:742px;width:136px;line-height:20px;font-size:16px">Actuator type</div>
<div class="ht" style="left:174px;top:764px;width:136px;line-height:20px;font-size:16px">matching</div>
<div class="ht" style="left:447px;top:724px;line-height:22px;text-align:left;font-size:15.8px">尺寸标注代号 dimensioning code</div>
<div class="ht" style="left:714px;top:724px;line-height:22px;text-align:left;font-size:15.8px">压力 pressure：1.6mpa</div>
<div class="ht" style="left:914px;top:724px;line-height:22px;text-align:left;font-size:15.8px">单位 unit：mm</div>
<div class="dt" style="left:34px;top:784.0px;width:138px;height:21.7px;line-height:21.7px">DN40</div>
<div class="dt" style="left:172px;top:784.0px;width:138px;height:21.7px;line-height:21.7px">AT75</div>
<div class="dt" style="left:310px;top:784.0px;width:95px;height:21.7px;line-height:21.7px">184</div>
<div class="dt" style="left:405px;top:784.0px;width:94px;height:21.7px;line-height:21.7px">43</div>
<div class="dt" style="left:499px;top:784.0px;width:93px;height:21.7px;line-height:21.7px">95</div>
<div class="dt" style="left:592px;top:784.0px;width:94px;height:21.7px;line-height:21.7px">20</div>
<div class="dt" style="left:686px;top:784.0px;width:94px;height:21.7px;line-height:21.7px">99.5</div>
<div class="dt" style="left:780px;top:784.0px;width:93px;height:21.7px;line-height:21.7px">175</div>
<div class="dt" style="left:873px;top:784.0px;width:93px;height:21.7px;line-height:21.7px">4×Φ18</div>
<div class="dt" style="left:966px;top:784.0px;width:93px;height:21.7px;line-height:21.7px">110</div>
<div class="dt" style="left:1059px;top:784.0px;width:95px;height:21.7px;line-height:21.7px">40</div>
<div class="hl" style="left:34px;top:804.7px;width:1120px"></div>
<div class="rb" style="left:34px;top:805.7px;width:1120px;height:21.7px"></div>
<div class="dt" style="left:34px;top:805.7px;width:138px;height:21.7px;line-height:21.7px">DN50</div>
<div class="dt" style="left:172px;top:805.7px;width:138px;height:21.7px;line-height:21.7px">AT75</div>
<div class="dt" style="left:310px;top:805.7px;width:95px;height:21.7px;line-height:21.7px">184</div>
<div class="dt" style="left:405px;top:805.7px;width:94px;height:21.7px;line-height:21.7px">43</div>
<div class="dt" style="left:499px;top:805.7px;width:93px;height:21.7px;line-height:21.7px">95</div>
<div class="dt" style="left:592px;top:805.7px;width:94px;height:21.7px;line-height:21.7px">20</div>
<div class="dt" style="left:686px;top:805.7px;width:94px;height:21.7px;line-height:21.7px">99.5</div>
<div class="dt" style="left:780px;top:805.7px;width:93px;height:21.7px;line-height:21.7px">175</div>
<div class="dt" style="left:873px;top:805.7px;width:93px;height:21.7px;line-height:21.7px">4×Φ18</div>
<div class="dt" style="left:966px;top:805.7px;width:93px;height:21.7px;line-height:21.7px">125</div>
<div class="dt" style="left:1059px;top:805.7px;width:95px;height:21.7px;line-height:21.7px">50</div>
<div class="hl" style="left:34px;top:826.3px;width:1120px"></div>
<div class="dt" style="left:34px;top:827.3px;width:138px;height:21.7px;line-height:21.7px">DN65</div>
<div class="dt" style="left:172px;top:827.3px;width:138px;height:21.7px;line-height:21.7px">AT83</div>
<div class="dt" style="left:310px;top:827.3px;width:95px;height:21.7px;line-height:21.7px">212</div>
<div class="dt" style="left:405px;top:827.3px;width:94px;height:21.7px;line-height:21.7px">46</div>
<div class="dt" style="left:499px;top:827.3px;width:93px;height:21.7px;line-height:21.7px">103</div>
<div class="dt" style="left:592px;top:827.3px;width:94px;height:21.7px;line-height:21.7px">20</div>
<div class="dt" style="left:686px;top:827.3px;width:94px;height:21.7px;line-height:21.7px">108.7</div>
<div class="dt" style="left:780px;top:827.3px;width:93px;height:21.7px;line-height:21.7px">175</div>
<div class="dt" style="left:873px;top:827.3px;width:93px;height:21.7px;line-height:21.7px">4×Φ18</div>
<div class="dt" style="left:966px;top:827.3px;width:93px;height:21.7px;line-height:21.7px">145</div>
<div class="dt" style="left:1059px;top:827.3px;width:95px;height:21.7px;line-height:21.7px">65</div>
<div class="hl" style="left:34px;top:848.0px;width:1120px"></div>
<div class="rb" style="left:34px;top:849.0px;width:1120px;height:21.7px"></div>
<div class="dt" style="left:34px;top:849.0px;width:138px;height:21.7px;line-height:21.7px">DN80</div>
<div class="dt" style="left:172px;top:849.0px;width:138px;height:21.7px;line-height:21.7px">AT92</div>
<div class="dt" style="left:310px;top:849.0px;width:95px;height:21.7px;line-height:21.7px">262</div>
<div class="dt" style="left:405px;top:849.0px;width:94px;height:21.7px;line-height:21.7px">49</div>
<div class="dt" style="left:499px;top:849.0px;width:93px;height:21.7px;line-height:21.7px">108.5</div>
<div class="dt" style="left:592px;top:849.0px;width:94px;height:21.7px;line-height:21.7px">20</div>
<div class="dt" style="left:686px;top:849.0px;width:94px;height:21.7px;line-height:21.7px">116.5</div>
<div class="dt" style="left:780px;top:849.0px;width:93px;height:21.7px;line-height:21.7px">190</div>
<div class="dt" style="left:873px;top:849.0px;width:93px;height:21.7px;line-height:21.7px">8×Φ18</div>
<div class="dt" style="left:966px;top:849.0px;width:93px;height:21.7px;line-height:21.7px">160</div>
<div class="dt" style="left:1059px;top:849.0px;width:95px;height:21.7px;line-height:21.7px">80</div>
<div class="hl" style="left:34px;top:869.7px;width:1120px"></div>
<div class="dt" style="left:34px;top:870.7px;width:138px;height:21.7px;line-height:21.7px">DN100</div>
<div class="dt" style="left:172px;top:870.7px;width:138px;height:21.7px;line-height:21.7px">AT105</div>
<div class="dt" style="left:310px;top:870.7px;width:95px;height:21.7px;line-height:21.7px">268</div>
<div class="dt" style="left:405px;top:870.7px;width:94px;height:21.7px;line-height:21.7px">56</div>
<div class="dt" style="left:499px;top:870.7px;width:93px;height:21.7px;line-height:21.7px">121.5</div>
<div class="dt" style="left:592px;top:870.7px;width:94px;height:21.7px;line-height:21.7px">20</div>
<div class="dt" style="left:686px;top:870.7px;width:94px;height:21.7px;line-height:21.7px">133</div>
<div class="dt" style="left:780px;top:870.7px;width:93px;height:21.7px;line-height:21.7px">210</div>
<div class="dt" style="left:873px;top:870.7px;width:93px;height:21.7px;line-height:21.7px">8×Φ18</div>
<div class="dt" style="left:966px;top:870.7px;width:93px;height:21.7px;line-height:21.7px">180</div>
<div class="dt" style="left:1059px;top:870.7px;width:95px;height:21.7px;line-height:21.7px">100</div>
<div class="hl" style="left:34px;top:891.3px;width:1120px"></div>
<div class="rb" style="left:34px;top:892.3px;width:1120px;height:21.7px"></div>
<div class="dt" style="left:34px;top:892.3px;width:138px;height:21.7px;line-height:21.7px">DN125</div>
<div class="dt" style="left:172px;top:892.3px;width:138px;height:21.7px;line-height:21.7px">AT125</div>
<div class="dt" style="left:310px;top:892.3px;width:95px;height:21.7px;line-height:21.7px">301</div>
<div class="dt" style="left:405px;top:892.3px;width:94px;height:21.7px;line-height:21.7px">64</div>
<div class="dt" style="left:499px;top:892.3px;width:93px;height:21.7px;line-height:21.7px">142</div>
<div class="dt" style="left:592px;top:892.3px;width:94px;height:21.7px;line-height:21.7px">30</div>
<div class="dt" style="left:686px;top:892.3px;width:94px;height:21.7px;line-height:21.7px">155</div>
<div class="dt" style="left:780px;top:892.3px;width:93px;height:21.7px;line-height:21.7px">225</div>
<div class="dt" style="left:873px;top:892.3px;width:93px;height:21.7px;line-height:21.7px">8×Φ18</div>
<div class="dt" style="left:966px;top:892.3px;width:93px;height:21.7px;line-height:21.7px">210</div>
<div class="dt" style="left:1059px;top:892.3px;width:95px;height:21.7px;line-height:21.7px">125</div>
<div class="hl" style="left:34px;top:913.0px;width:1120px"></div>
<div class="dt" style="left:34px;top:914.0px;width:138px;height:21.7px;line-height:21.7px">DN150</div>
<div class="dt" style="left:172px;top:914.0px;width:138px;height:21.7px;line-height:21.7px">AT140</div>
<div class="dt" style="left:310px;top:914.0px;width:95px;height:21.7px;line-height:21.7px">390</div>
<div class="dt" style="left:405px;top:914.0px;width:94px;height:21.7px;line-height:21.7px">70</div>
<div class="dt" style="left:499px;top:914.0px;width:93px;height:21.7px;line-height:21.7px">152</div>
<div class="dt" style="left:592px;top:914.0px;width:94px;height:21.7px;line-height:21.7px">30</div>
<div class="dt" style="left:686px;top:914.0px;width:94px;height:21.7px;line-height:21.7px">172</div>
<div class="dt" style="left:780px;top:914.0px;width:93px;height:21.7px;line-height:21.7px">245</div>
<div class="dt" style="left:873px;top:914.0px;width:93px;height:21.7px;line-height:21.7px">8×Φ22</div>
<div class="dt" style="left:966px;top:914.0px;width:93px;height:21.7px;line-height:21.7px">240</div>
<div class="dt" style="left:1059px;top:914.0px;width:95px;height:21.7px;line-height:21.7px">150</div>
<div class="hl" style="left:34px;top:934.7px;width:1120px"></div>
<div class="rb" style="left:34px;top:935.7px;width:1120px;height:21.7px"></div>
<div class="dt" style="left:34px;top:935.7px;width:138px;height:21.7px;line-height:21.7px">DN200</div>
<div class="dt" style="left:172px;top:935.7px;width:138px;height:21.7px;line-height:21.7px">AT160</div>
<div class="dt" style="left:310px;top:935.7px;width:95px;height:21.7px;line-height:21.7px">458</div>
<div class="dt" style="left:405px;top:935.7px;width:94px;height:21.7px;line-height:21.7px">71</div>
<div class="dt" style="left:499px;top:935.7px;width:93px;height:21.7px;line-height:21.7px">174</div>
<div class="dt" style="left:592px;top:935.7px;width:94px;height:21.7px;line-height:21.7px">30</div>
<div class="dt" style="left:686px;top:935.7px;width:94px;height:21.7px;line-height:21.7px">197</div>
<div class="dt" style="left:780px;top:935.7px;width:93px;height:21.7px;line-height:21.7px">310</div>
<div class="dt" style="left:873px;top:935.7px;width:93px;height:21.7px;line-height:21.7px">8×Φ22</div>
<div class="dt" style="left:966px;top:935.7px;width:93px;height:21.7px;line-height:21.7px">295</div>
<div class="dt" style="left:1059px;top:935.7px;width:95px;height:21.7px;line-height:21.7px">200</div>
<div class="hl" style="left:34px;top:956.3px;width:1120px"></div>
<div class="dt" style="left:34px;top:957.3px;width:138px;height:21.7px;line-height:21.7px">DN250</div>
<div class="dt" style="left:172px;top:957.3px;width:138px;height:21.7px;line-height:21.7px">AT190</div>
<div class="dt" style="left:310px;top:957.3px;width:95px;height:21.7px;line-height:21.7px">534</div>
<div class="dt" style="left:405px;top:957.3px;width:94px;height:21.7px;line-height:21.7px">76</div>
<div class="dt" style="left:499px;top:957.3px;width:93px;height:21.7px;line-height:21.7px">206</div>
<div class="dt" style="left:592px;top:957.3px;width:94px;height:21.7px;line-height:21.7px">30</div>
<div class="dt" style="left:686px;top:957.3px;width:94px;height:21.7px;line-height:21.7px">230</div>
<div class="dt" style="left:780px;top:957.3px;width:93px;height:21.7px;line-height:21.7px">325</div>
<div class="dt" style="left:873px;top:957.3px;width:93px;height:21.7px;line-height:21.7px">12×Φ22</div>
<div class="dt" style="left:966px;top:957.3px;width:93px;height:21.7px;line-height:21.7px">355</div>
<div class="dt" style="left:1059px;top:957.3px;width:95px;height:21.7px;line-height:21.7px">250</div>
<div class="hl" style="left:34px;top:978.0px;width:1120px"></div>
<div class="rb" style="left:34px;top:979.0px;width:1120px;height:21.7px"></div>
<div class="dt" style="left:34px;top:979.0px;width:138px;height:21.7px;line-height:21.7px">DN300</div>
<div class="dt" style="left:172px;top:979.0px;width:138px;height:21.7px;line-height:21.7px">AT210</div>
<div class="dt" style="left:310px;top:979.0px;width:95px;height:21.7px;line-height:21.7px">538</div>
<div class="dt" style="left:405px;top:979.0px;width:94px;height:21.7px;line-height:21.7px">83</div>
<div class="dt" style="left:499px;top:979.0px;width:93px;height:21.7px;line-height:21.7px">226</div>
<div class="dt" style="left:592px;top:979.0px;width:94px;height:21.7px;line-height:21.7px">30</div>
<div class="dt" style="left:686px;top:979.0px;width:94px;height:21.7px;line-height:21.7px">255</div>
<div class="dt" style="left:780px;top:979.0px;width:93px;height:21.7px;line-height:21.7px">355</div>
<div class="dt" style="left:873px;top:979.0px;width:93px;height:21.7px;line-height:21.7px">12×Φ22</div>
<div class="dt" style="left:966px;top:979.0px;width:93px;height:21.7px;line-height:21.7px">410</div>
<div class="dt" style="left:1059px;top:979.0px;width:95px;height:21.7px;line-height:21.7px">300</div>
<div class="hl" style="left:34px;top:999.7px;width:1120px"></div>
<div class="dt" style="left:34px;top:1000.7px;width:138px;height:21.7px;line-height:21.7px">DN350</div>
<div class="dt" style="left:172px;top:1000.7px;width:138px;height:21.7px;line-height:21.7px">AT240</div>
<div class="dt" style="left:310px;top:1000.7px;width:95px;height:21.7px;line-height:21.7px">602</div>
<div class="dt" style="left:405px;top:1000.7px;width:94px;height:21.7px;line-height:21.7px">92</div>
<div class="dt" style="left:499px;top:1000.7px;width:93px;height:21.7px;line-height:21.7px">260</div>
<div class="dt" style="left:592px;top:1000.7px;width:94px;height:21.7px;line-height:21.7px">30</div>
<div class="dt" style="left:686px;top:1000.7px;width:94px;height:21.7px;line-height:21.7px">289</div>
<div class="dt" style="left:780px;top:1000.7px;width:93px;height:21.7px;line-height:21.7px">390</div>
<div class="dt" style="left:873px;top:1000.7px;width:93px;height:21.7px;line-height:21.7px">16×Φ22</div>
<div class="dt" style="left:966px;top:1000.7px;width:93px;height:21.7px;line-height:21.7px">470</div>
<div class="dt" style="left:1059px;top:1000.7px;width:95px;height:21.7px;line-height:21.7px">350</div>
<div class="hl" style="left:34px;top:1021.3px;width:1120px"></div>
<div class="rb" style="left:34px;top:1022.3px;width:1120px;height:21.7px"></div>
<div class="dt" style="left:34px;top:1022.3px;width:138px;height:21.7px;line-height:21.7px">DN400</div>
<div class="dt" style="left:172px;top:1022.3px;width:138px;height:21.7px;line-height:21.7px">AT270</div>
<div class="dt" style="left:310px;top:1022.3px;width:95px;height:21.7px;line-height:21.7px">718</div>
<div class="dt" style="left:405px;top:1022.3px;width:94px;height:21.7px;line-height:21.7px">102</div>
<div class="dt" style="left:499px;top:1022.3px;width:93px;height:21.7px;line-height:21.7px">294</div>
<div class="dt" style="left:592px;top:1022.3px;width:94px;height:21.7px;line-height:21.7px">30</div>
<div class="dt" style="left:686px;top:1022.3px;width:94px;height:21.7px;line-height:21.7px">326</div>
<div class="dt" style="left:780px;top:1022.3px;width:93px;height:21.7px;line-height:21.7px">415</div>
<div class="dt" style="left:873px;top:1022.3px;width:93px;height:21.7px;line-height:21.7px">16×Φ26</div>
<div class="dt" style="left:966px;top:1022.3px;width:93px;height:21.7px;line-height:21.7px">525</div>
<div class="dt" style="left:1059px;top:1022.3px;width:95px;height:21.7px;line-height:21.7px">400</div>
<div class="hl" style="left:34px;top:1043.0px;width:1120px"></div>
<div class="dt" style="left:34px;top:1044.0px;width:138px;height:21.7px;line-height:21.7px">DN450</div>
<div class="dt" style="left:172px;top:1044.0px;width:138px;height:21.7px;line-height:21.7px">AT300</div>
<div class="dt" style="left:310px;top:1044.0px;width:95px;height:21.7px;line-height:21.7px">782</div>
<div class="dt" style="left:405px;top:1044.0px;width:94px;height:21.7px;line-height:21.7px">114</div>
<div class="dt" style="left:499px;top:1044.0px;width:93px;height:21.7px;line-height:21.7px">336</div>
<div class="dt" style="left:592px;top:1044.0px;width:94px;height:21.7px;line-height:21.7px">30</div>
<div class="dt" style="left:686px;top:1044.0px;width:94px;height:21.7px;line-height:21.7px">350</div>
<div class="dt" style="left:780px;top:1044.0px;width:93px;height:21.7px;line-height:21.7px">470</div>
<div class="dt" style="left:873px;top:1044.0px;width:93px;height:21.7px;line-height:21.7px">20×Φ26</div>
<div class="dt" style="left:966px;top:1044.0px;width:93px;height:21.7px;line-height:21.7px">585</div>
<div class="dt" style="left:1059px;top:1044.0px;width:95px;height:21.7px;line-height:21.7px">450</div>
<div class="hl" style="left:34px;top:1064.7px;width:1120px"></div>
<div class="rb" style="left:34px;top:1065.7px;width:1120px;height:21.7px"></div>
<div class="dt" style="left:34px;top:1065.7px;width:138px;height:21.7px;line-height:21.7px">DN500</div>
<div class="dt" style="left:172px;top:1065.7px;width:138px;height:21.7px;line-height:21.7px">AT350</div>
<div class="dt" style="left:310px;top:1065.7px;width:95px;height:21.7px;line-height:21.7px">920</div>
<div class="dt" style="left:405px;top:1065.7px;width:94px;height:21.7px;line-height:21.7px">127</div>
<div class="dt" style="left:499px;top:1065.7px;width:93px;height:21.7px;line-height:21.7px">385</div>
<div class="dt" style="left:592px;top:1065.7px;width:94px;height:21.7px;line-height:21.7px">30</div>
<div class="dt" style="left:686px;top:1065.7px;width:94px;height:21.7px;line-height:21.7px">410</div>
<div class="dt" style="left:780px;top:1065.7px;width:93px;height:21.7px;line-height:21.7px">485</div>
<div class="dt" style="left:873px;top:1065.7px;width:93px;height:21.7px;line-height:21.7px">20×Φ26</div>
<div class="dt" style="left:966px;top:1065.7px;width:93px;height:21.7px;line-height:21.7px">650</div>
<div class="dt" style="left:1059px;top:1065.7px;width:95px;height:21.7px;line-height:21.7px">500</div>
<div class="hl" style="left:34px;top:1086.3px;width:1120px"></div>
<div class="dt" style="left:34px;top:1087.3px;width:138px;height:21.7px;line-height:21.7px">DN600</div>
<div class="dt" style="left:172px;top:1087.3px;width:138px;height:21.7px;line-height:21.7px">AT400</div>
<div class="dt" style="left:310px;top:1087.3px;width:95px;height:21.7px;line-height:21.7px">940</div>
<div class="dt" style="left:405px;top:1087.3px;width:94px;height:21.7px;line-height:21.7px">154</div>
<div class="dt" style="left:499px;top:1087.3px;width:93px;height:21.7px;line-height:21.7px">520</div>
<div class="dt" style="left:592px;top:1087.3px;width:94px;height:21.7px;line-height:21.7px">30</div>
<div class="dt" style="left:686px;top:1087.3px;width:94px;height:21.7px;line-height:21.7px">466</div>
<div class="dt" style="left:780px;top:1087.3px;width:93px;height:21.7px;line-height:21.7px">550</div>
<div class="dt" style="left:873px;top:1087.3px;width:93px;height:21.7px;line-height:21.7px">20×Φ30</div>
<div class="dt" style="left:966px;top:1087.3px;width:93px;height:21.7px;line-height:21.7px">770</div>
<div class="dt" style="left:1059px;top:1087.3px;width:95px;height:21.7px;line-height:21.7px">600</div>
<div class="hl" style="left:34px;top:1108.0px;width:1120px"></div>
<div class="vl" style="left:33px;top:784px;height:326px"></div>
<div class="vl" style="left:171px;top:784px;height:326px"></div>
<div class="vl" style="left:309px;top:784px;height:326px"></div>
<div class="vl" style="left:404px;top:784px;height:326px"></div>
<div class="vl" style="left:498px;top:784px;height:326px"></div>
<div class="vl" style="left:591px;top:784px;height:326px"></div>
<div class="vl" style="left:685px;top:784px;height:326px"></div>
<div class="vl" style="left:779px;top:784px;height:326px"></div>
<div class="vl" style="left:872px;top:784px;height:326px"></div>
<div class="vl" style="left:965px;top:784px;height:326px"></div>
<div class="vl" style="left:1058px;top:784px;height:326px"></div>
<div class="vl" style="left:1153px;top:784px;height:326px"></div>
</body></html>
